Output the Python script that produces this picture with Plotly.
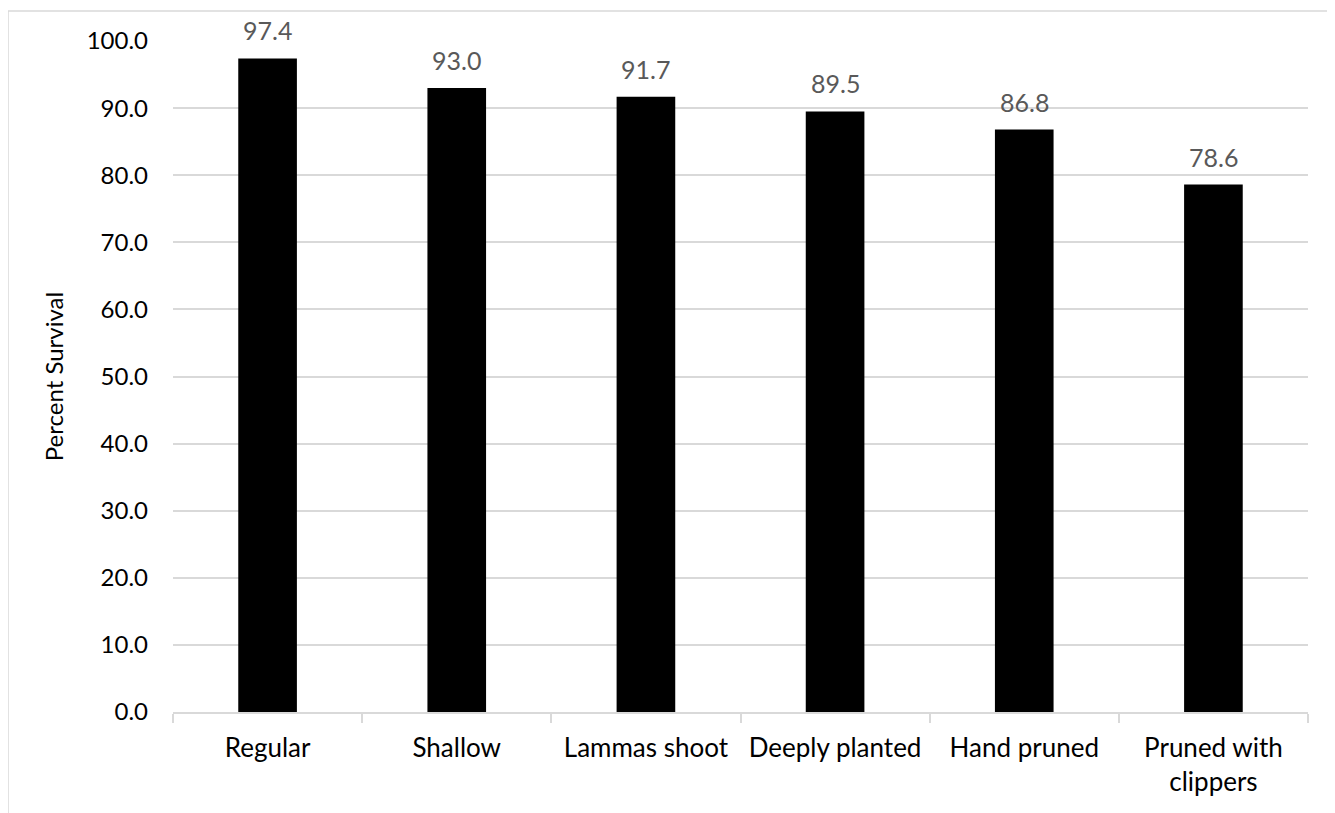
import plotly.graph_objects as go

categories = ["Regular", "Shallow", "Lammas shoot", "Deeply planted", "Hand pruned", "Pruned with<br>clippers"]
survival = [97.4, 93.0, 91.7, 89.5, 86.8, 78.6]
tick_vals = [0, 10, 20, 30, 40, 50, 60, 70, 80, 90, 100]
tick_text = [f"{v:.1f}" for v in tick_vals]

FONT = "Lato"

fig = go.Figure(go.Bar(
    x=categories, y=survival,
    marker=dict(color="#000000", line=dict(width=0)),
    width=0.31,
    cliponaxis=False,
))

for c, v in zip(categories, survival):
    fig.add_annotation(
        x=c, y=v, xref="x", yref="y", text=f"{v:.1f}", showarrow=False,
        yanchor="bottom", yshift=11,
        font=dict(family=FONT, size=25, color="#595959"),
    )

# page has an 8px body margin; figure spans 1327x805 inside it
W, H = 1327, 805
L, R, T, B = 165, 27, 33, 101
pw, ph = W - L - R, H - T - B
bx = (0 - L) / pw
by = 1 + (T - 3) / ph

fig.update_layout(
    width=W, height=H,
    margin=dict(l=L, r=R, t=T, b=B),
    paper_bgcolor="white", plot_bgcolor="white",
    showlegend=False,
    font=dict(family=FONT, size=24, color="#000000"),
    xaxis=dict(
        type="category", tickson="boundaries", ticks="outside", ticklen=9,
        tickcolor="#d9d9d9", tickwidth=1.5,
        showline=True, linecolor="#d9d9d9", linewidth=1.5,
        showgrid=False,
        ticklabelstandoff=12,
        tickfont=dict(family=FONT, size=26, color="#000000"),
    ),
    yaxis=dict(
        range=[0, 100], tickvals=tick_vals, ticktext=tick_text,
        showgrid=True, gridcolor="#d9d9d9", gridwidth=1.5,
        zeroline=False, showline=False, ticks="",
        tickfont=dict(family=FONT, size=24, color="#000000"),
        ticklabelstandoff=24,
        title=dict(text="Percent Survival", font=dict(family=FONT, size=24, color="#000000"), standoff=16),
    ),
    shapes=[dict(
        type="path", xref="paper", yref="paper",
        path=f"M {bx} -0.5 L {bx} {by} L 1.5 {by}",
        line=dict(color="#d9d9d9", width=1.5),
    )],
)

fig.write_html("out.html")
